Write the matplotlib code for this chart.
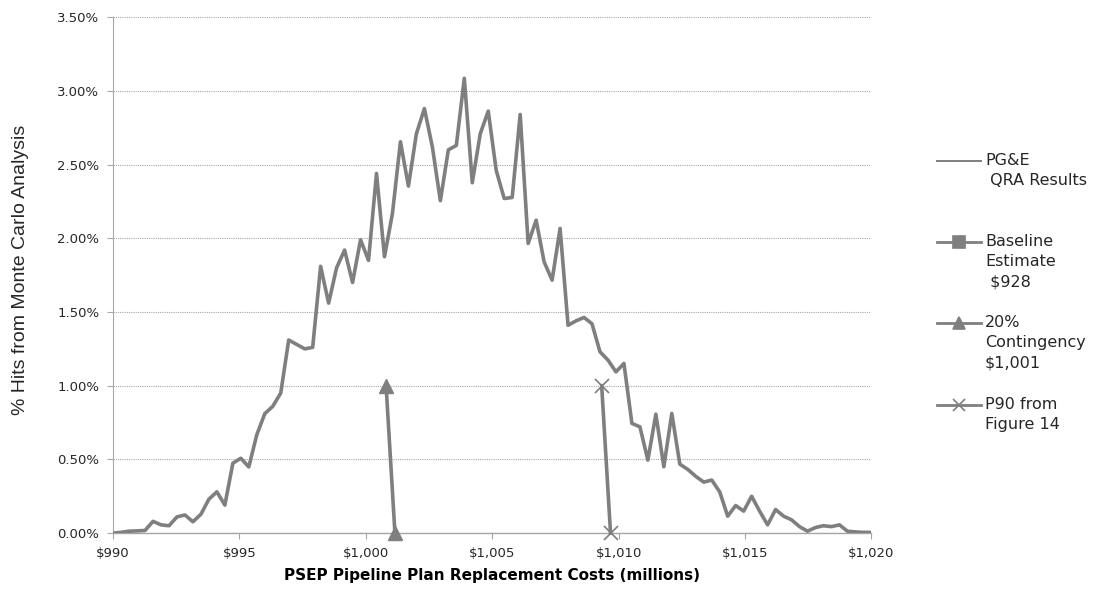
import numpy as np
import matplotlib

matplotlib.use("Agg")
import matplotlib.pyplot as plt
from matplotlib.lines import Line2D
from matplotlib.ticker import FuncFormatter

# Monte Carlo histogram (percent of hits per cost bin, $ millions)
bin_start = 990.0
bin_width = 30.0 / 95
hits_pct = [
    0.000, 0.005, 0.013, 0.015, 0.018, 0.080, 0.056, 0.050, 0.110, 0.123,
    0.077, 0.128, 0.230, 0.280, 0.190, 0.474, 0.508, 0.449, 0.667, 0.810,
    0.860, 0.950, 1.310, 1.280, 1.250, 1.260, 1.810, 1.560, 1.800, 1.920,
    1.700, 1.990, 1.850, 2.440, 1.875, 2.170, 2.655, 2.354, 2.710, 2.880,
    2.620, 2.255, 2.600, 2.630, 3.085, 2.377, 2.710, 2.863, 2.460, 2.270,
    2.277, 2.840, 1.965, 2.123, 1.840, 1.716, 2.067, 1.410, 1.440, 1.463,
    1.420, 1.230, 1.174, 1.094, 1.151, 0.744, 0.721, 0.495, 0.807, 0.450,
    0.812, 0.468, 0.432, 0.385, 0.346, 0.360, 0.280, 0.115, 0.187, 0.149,
    0.250, 0.149, 0.056, 0.160, 0.115, 0.090, 0.044, 0.013, 0.038, 0.050,
    0.044, 0.056, 0.013, 0.008, 0.005, 0.005,
]

# marker series (x in $ millions, y in %)
baseline_x = [928, 928]
baseline_y = [1.0, 0.0]
contingency_x = [1000.8, 1001.15]
contingency_y = [1.0, 0.0]
p90_x = [1009.33, 1009.68]
p90_y = [1.0, 0.0]

x_ticks = [990, 995, 1000, 1005, 1010, 1015, 1020]
y_ticks = [0.0, 0.5, 1.0, 1.5, 2.0, 2.5, 3.0, 3.5]

legend_labels = [
    "PG&E\n QRA Results",
    "Baseline\nEstimate\n $928",
    "20%\nContingency\n$1,001",
    "P90 from\nFigure 14",
]

GRAY = "#7f7f7f"
GRID = "#a6a6a6"
TEXT = "#262626"
W, H = 1120, 593

x = bin_start + bin_width * np.arange(len(hits_pct))

fig = plt.figure(figsize=(W / 100, H / 100), dpi=100)
ax = fig.add_axes([0.101, 0.101, 0.677, 0.870])

ax.plot(x, hits_pct, color=GRAY, lw=2.6, solid_joinstyle="round", zorder=3)
ax.plot(baseline_x, baseline_y, color=GRAY, lw=2.6, marker="s", ms=8, zorder=3)
ax.plot(contingency_x, contingency_y, color=GRAY, lw=2.6, marker="^", ms=10,
        zorder=3, clip_on=False)
ax.plot(p90_x, p90_y, color=GRAY, lw=2.6, marker="x", ms=10, mew=1.2,
        zorder=3, clip_on=False)

ax.set_xlim(990, 1020)
ax.set_ylim(0, 3.5)
ax.set_xticks(x_ticks)
ax.set_yticks(y_ticks)
ax.xaxis.set_major_formatter(FuncFormatter(lambda v, p: f"${v:,.0f}"))
ax.yaxis.set_major_formatter(FuncFormatter(lambda v, p: f"{v:.2f}%"))
ax.tick_params(axis="both", labelsize=9.5, colors=TEXT, length=4, width=0.8)
ax.tick_params(axis="x", color=GRID, pad=6)
ax.tick_params(axis="y", color=GRID, pad=6)

ax.grid(axis="y", color=GRID, linestyle=(0, (1, 1)), lw=0.8)
ax.set_axisbelow(True)
for side in ["top", "right"]:
    ax.spines[side].set_visible(False)
ax.spines["left"].set_color(GRID)
ax.spines["left"].set_linestyle((0, (1, 1)))
ax.spines["left"].set_linewidth(0.8)
ax.spines["bottom"].set_color(GRID)
ax.spines["bottom"].set_linewidth(1.0)

ax.set_xlabel("PSEP Pipeline Plan Replacement Costs (millions)",
              fontsize=11, fontweight="bold", color="black", labelpad=6)
fig.text(0.018, 0.545, "% Hits from Monte Carlo Analysis", rotation=90,
         ha="center", va="center", fontsize=14, color=TEXT,
         family=["Liberation Sans Narrow", "Liberation Sans", "DejaVu Sans"])

# legend drawn by hand so the key sits on the first text line
markers = [None, "s", "^", "x"]
legend_y = [161, 242, 323, 405]
for label, mk, ypx in zip(legend_labels, markers, legend_y):
    yf = 1 - ypx / H
    fig.add_artist(Line2D([937 / W, 981 / W], [yf, yf], color=GRAY,
                          lw=2.0 if mk else 1.4))
    if mk:
        fig.add_artist(Line2D([959 / W], [yf], color=GRAY, marker=mk,
                              ms=8, mew=1.2, lw=0))
    fig.text(985 / W, yf + 8 / H, label, ha="left", va="top",
             fontsize=11.5, color=TEXT, linespacing=1.45)

fig.savefig("out.png", dpi=100)
